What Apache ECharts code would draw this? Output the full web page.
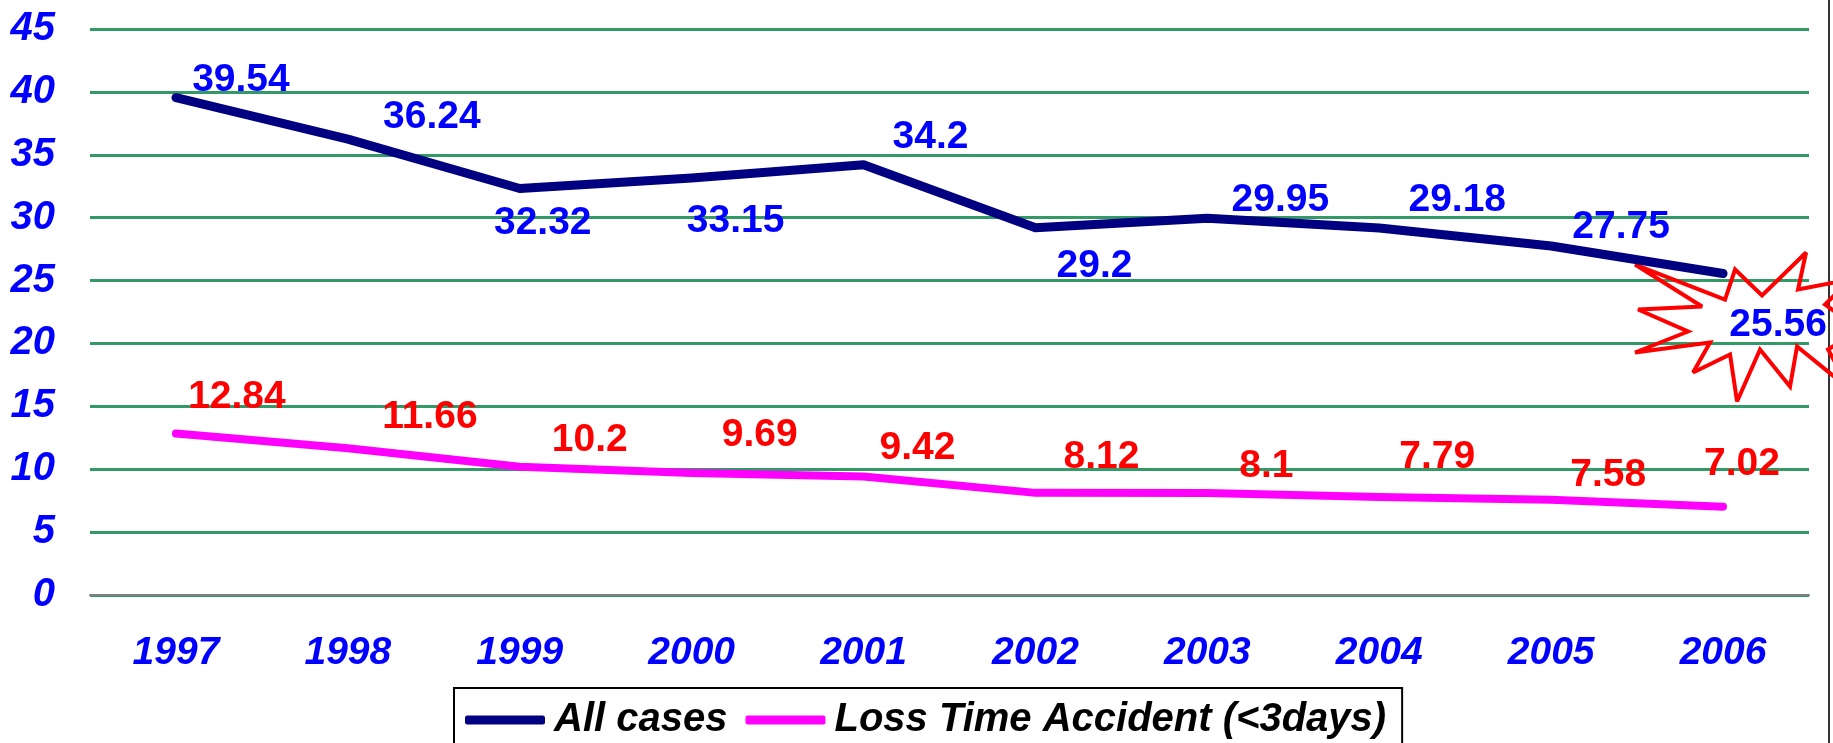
<!DOCTYPE html>
<html>
<head>
<meta charset="utf-8">
<script src="https://cdn.jsdelivr.net/npm/echarts@6/dist/echarts.min.js"></script>
<style>
  html, body { margin: 0; padding: 0; background: #fff; }
  #main { width: 1833px; height: 743px; }
</style>
</head>
<body>
<div id="main"></div>
<script>
// data
const years = ['1997', '1998', '1999', '2000', '2001', '2002', '2003', '2004', '2005', '2006'];
const allCases = [39.54, 36.24, 32.32, 33.15, 34.2, 29.2, 29.95, 29.18, 27.75, 25.56];
const lossTime = [12.84, 11.66, 10.2, 9.69, 9.42, 8.12, 8.1, 7.79, 7.58, 7.02];
const yTicks = [0, 5, 10, 15, 20, 25, 30, 35, 40, 45];

// hand placed label offsets (px from the point), like the original slide
const allCasesLabelOffset = [[65, -17], [84, -22], [23, 35], [44, 43], [67, -28], [59, 39], [73, -18], [78, -28], [70, -19], [55, 52]];
const lossTimeLabelOffset = [[61, -36], [82, -31], [70, -26], [68, -38], [54, -28], [66, -36], [59, -27], [58, -40], [57, -24], [19, -42]];

// starburst outline round the last value (px from the 2006 point)
const burst = [[-88, -9], [2, 26], [12, -4], [39, 22], [83, -21], [75, 16], [127, 6], [102, 31], [137, 56], [105, 76],
  [127, 116], [74, 73], [67, 113], [37, 76], [14, 128], [7, 81], [-30, 99], [-13, 69], [-88, 79], [-35, 58], [-85, 36], [-21, 33]];

const font = 'Liberation Sans, Arial, sans-serif';

const withOffsets = (values, offsets) =>
  values.map((v, i) => ({ value: v, label: { offset: offsets[i] } }));

const chart = echarts.init(document.getElementById('main'));
const option = {
  animation: false,
  grid: { left: 90, right: 24, top: 29, bottom: 148 },
  legend: {
    left: 454,
    top: 688,
    padding: [12, 16, 12, 11],
    borderColor: '#000',
    borderWidth: 2,
    icon: 'roundRect',
    itemWidth: 80,
    itemHeight: 9,
    itemGap: 18,
    textStyle: { fontFamily: font, fontSize: 40, fontWeight: 'bold', fontStyle: 'italic', color: '#000', padding: [0, 0, 0, 4] },
    data: ['All cases', 'Loss Time Accident (<3days)']
  },
  xAxis: {
    type: 'category',
    data: years,
    axisLine: { lineStyle: { color: '#808080', width: 2 } },
    axisTick: { length: 12, lineStyle: { color: '#808080', width: 2 } },
    axisLabel: { margin: 39, fontFamily: font, fontSize: 39, fontWeight: 'bold', fontStyle: 'italic', color: '#0000ff' }
  },
  yAxis: {
    type: 'value',
    min: yTicks[0],
    max: yTicks[yTicks.length - 1],
    interval: 5,
    axisLine: { show: false },
    axisTick: { show: false },
    splitLine: { lineStyle: { color: '#339966', width: 3 } },
    axisLabel: { margin: 35, fontFamily: font, fontSize: 40, fontWeight: 'bold', fontStyle: 'italic', color: '#0000ff' }
  },
  series: [
    {
      name: 'All cases',
      type: 'line',
      data: withOffsets(allCases, allCasesLabelOffset),
      symbol: 'circle',
      symbolSize: 0,
      z: 3,
      lineStyle: { color: '#000080', width: 9, cap: 'round', join: 'round' },
      itemStyle: { color: '#000080' },
      label: { show: true, position: 'inside', fontFamily: font, fontSize: 39, fontWeight: 'bold', color: '#0000ff' }
    },
    {
      name: 'Loss Time Accident (<3days)',
      type: 'line',
      data: withOffsets(lossTime, lossTimeLabelOffset),
      symbol: 'circle',
      symbolSize: 0,
      z: 3,
      lineStyle: { color: '#ff00ff', width: 8, cap: 'round', join: 'round' },
      itemStyle: { color: '#ff00ff' },
      label: { show: true, position: 'inside', fontFamily: font, fontSize: 39, fontWeight: 'bold', color: '#ff0000' }
    }
  ]
};
chart.setOption(option);

// explosion shape and right border
const last = chart.convertToPixel({ seriesIndex: 0 }, [years.length - 1, allCases[allCases.length - 1]]);
chart.setOption({
  graphic: [
    {
      type: 'polygon',
      z: 1,
      shape: { points: burst.map(p => [last[0] + p[0], last[1] + p[1]]) },
      style: { fill: 'none', stroke: '#ff0000', lineWidth: 4, lineJoin: 'miter', miterLimit: 3 }
    },
    {
      type: 'line',
      shape: { x1: 1829, y1: 0, x2: 1829, y2: 743 },
      style: { stroke: '#333', lineWidth: 2 }
    }
  ]
});
</script>
</body>
</html>
